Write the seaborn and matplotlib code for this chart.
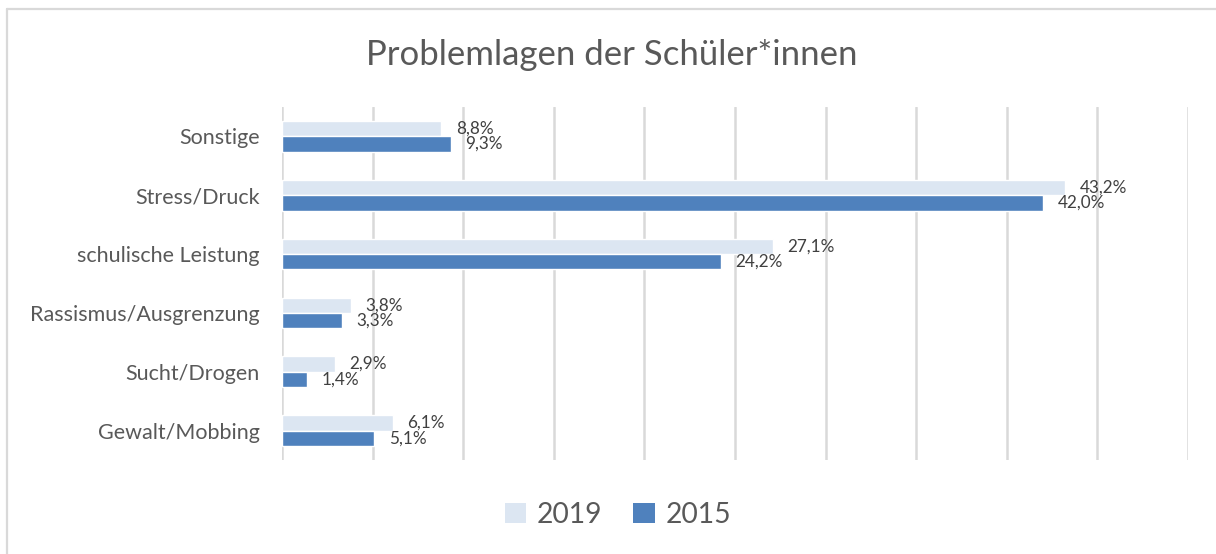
import pandas as pd
import matplotlib.pyplot as plt
import seaborn as sns
from matplotlib.lines import Line2D
from matplotlib.patches import Patch

# Daten
kategorien = ["Sonstige", "Stress/Druck", "schulische Leistung",
              "Rassismus/Ausgrenzung", "Sucht/Drogen", "Gewalt/Mobbing"]
werte_2019 = [8.8, 43.2, 27.1, 3.8, 2.9, 6.1]
werte_2015 = [9.3, 42.0, 24.2, 3.3, 1.4, 5.1]
jahre = ["2019", "2015"]
farben = {"2019": "#dce6f2", "2015": "#4f81bd"}

df = pd.DataFrame({
    "kategorie": kategorien * 2,
    "wert": werte_2019 + werte_2015,
    "jahr": ["2019"] * len(kategorien) + ["2015"] * len(kategorien),
})

sns.set_style("white")
plt.rcParams['font.family'] = ['Lato', 'DejaVu Sans']

fig = plt.figure(figsize=(12.16, 5.54), dpi=100)
ax = fig.add_axes([282/1216, 1 - 460/554, (1188 - 282)/1216, (460 - 107)/554])

sns.barplot(data=df, y="kategorie", x="wert", hue="jahr", order=kategorien,
            hue_order=jahre, palette=farben, width=0.52, orient="h",
            saturation=1, legend=False, ax=ax)

for cont in ax.containers:
    etiketten = [f"{b.get_width():.1f}%".replace(".", ",") for b in cont]
    ax.bar_label(cont, labels=etiketten, padding=10.5, fontsize=12.3, color="#404040")

ax.set_xlim(0, 50)
ax.set_xticks(range(0, 55, 5))
ax.set_xticklabels([])
ax.grid(axis="x", color="#d9d9d9", linewidth=1.8)
ax.set_axisbelow(True)
ax.tick_params(axis="both", length=0)
ax.tick_params(axis="y", pad=16, labelsize=15.5, labelcolor="#595959")
ax.set_xlabel("")
ax.set_ylabel("")
for s in ax.spines.values():
    s.set_visible(False)

fig.text(612/1216, 1 - 55/554, "Problemlagen der Schüler*innen", ha="center",
         va="center", fontsize=25, color="#595959")

griffe = [Patch(facecolor=farben[j], edgecolor="none") for j in jahre]
fig.legend(griffe, jahre, loc="center", bbox_to_anchor=(618/1216, 1 - 515/554),
           ncol=2, frameon=False, fontsize=20.3, labelcolor="#595959",
           handlelength=0.75, handleheight=0.75, handletextpad=0.4, columnspacing=1.1)

# Rahmen des Diagrammbereichs
fig.add_artist(Line2D([7/1216, 7/1216], [0, 1 - 8.5/554], transform=fig.transFigure,
                      color="#d9d9d9", linewidth=1.6))
fig.add_artist(Line2D([7/1216, 1], [1 - 8.5/554, 1 - 8.5/554], transform=fig.transFigure,
                      color="#d9d9d9", linewidth=1.6))

fig.savefig("out.png", dpi=100)
